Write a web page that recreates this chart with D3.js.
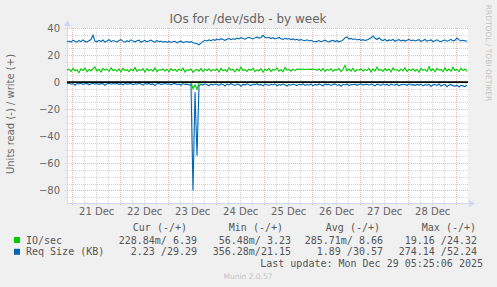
<!DOCTYPE html>
<html>
<head>
<meta charset="utf-8">
<script src="https://cdn.jsdelivr.net/npm/d3@7"></script>
<style>
  body { margin: 0; background: #F0F0F0; }
  text { font-family: "DejaVu Sans", sans-serif; fill: #666; }
  .mono { font-family: "DejaVu Sans Mono", monospace; font-size: 10px; white-space: pre; fill: #555; }
</style>
</head>
<body>
<div id="chart"></div>
<script>

// hourly samples starting Dec 20 21:25:06, last update Dec 29 05:25:06
var start = new Date(2025, 11, 20, 21, 25, 6),
    end = new Date(2025, 11, 29, 5, 25, 6);

// IO/sec write (+)
var ioWrite = [
  8.9,9.6,7.8,10.2,8.4,9.1,6.9,9.8,8.6,10.4,7.6,9.3,8.2,9.9,11.2,8.1,9.4,7.4,10.1,8.8,9.5,7.9,10.6,8.5,9.2,
  8.0,9.7,7.5,10.3,8.7,9.0,7.7,9.6,8.3,10.8,7.9,9.2,8.6,9.9,7.3,10.0,8.4,9.4,8.1,10.5,7.8,9.1,8.9,9.8,8.2,
  9.5,7.6,10.1,8.5,9.3,7.9,9.7,8.4,10.4,7.4,9.0,8.7,9.6,7.2,8.8,9.4,8.1,10.0,7.7,9.5,8.6,9.9,8.0,9.3,8.7,
  9.8,7.5,10.2,8.3,9.1,7.8,10.6,8.9,9.4,7.6,9.7,8.2,11.0,8.5,9.2,7.9,9.6,8.8,10.3,7.7,9.0,8.4,9.9,7.3,9.5,
  8.6,10.1,7.8,9.4,8.9,10.5,8.0,9.2,7.6,10.7,8.8,9.3,8.1,9.6,8.5,9.7,9.4,9.5,9.6,9.3,9.5,9.6,9.4,9.7,9.5,
  8.7,9.9,8.2,10.1,7.9,9.4,8.6,9.8,8.0,9.2,8.9,10.0,7.8,9.5,12.4,8.3,9.6,8.1,10.2,7.7,9.3,8.8,9.9,8.0,9.4,
  8.5,10.3,7.6,9.8,8.2,11.1,8.7,9.2,7.9,10.0,8.4,9.6,7.5,10.4,8.8,9.1,8.0,9.7,8.3,10.6,7.8,9.4,8.6,9.9,8.1,
  9.5,7.4,10.2,8.7,9.3,7.9,11.4,8.4,9.8,7.6,10.1,8.9,9.2,7.7,10.5,8.3,9.6,8.0,11.0,8.6,9.4,7.8,10.3,8.5,9.7,7.9
];

// IO/sec read (-)
var ioRead = [
  -0.3,-0.2,-0.4,-0.3,-0.2,-0.3,-0.5,-0.3,-0.2,-0.3,-0.4,-0.2,-0.3,-0.3,-0.2,-0.4,-0.3,-0.2,-0.3,-0.5,-0.3,-0.2,-0.3,-0.4,-0.3,
  -0.2,-0.3,-0.4,-0.3,-0.2,-0.5,-0.3,-0.2,-0.3,-0.4,-0.3,-0.2,-0.3,-0.3,-0.4,-0.2,-0.3,-0.5,-0.3,-0.2,-0.3,-0.4,-0.3,-0.2,-0.3,
  -0.4,-0.3,-0.2,-0.3,-0.5,-0.3,-0.2,-0.4,-0.3,-0.3,-0.2,-0.4,-0.3,-4.8,-2.1,-5.3,-0.6,-0.3,-0.4,-0.2,-0.3,-0.5,-0.3,-0.2,-0.3,
  -0.4,-0.3,-0.2,-0.3,-0.4,-0.3,-0.2,-0.5,-0.3,-0.3,-0.2,-0.4,-0.3,-0.2,-0.3,-0.4,-0.3,-0.2,-0.3,-0.5,-0.3,-0.2,-0.4,-0.3,-0.3,
  -0.2,-0.3,-0.4,-0.3,-0.2,-0.3,-0.5,-0.3,-0.2,-0.3,-0.4,-0.3,-0.2,-0.3,-0.3,-0.4,-0.2,-0.3,-0.5,-0.3,-0.2,-0.3,-0.4,-0.3,-0.2,
  -0.3,-0.4,-0.3,-0.2,-0.3,-0.5,-0.3,-0.2,-0.4,-0.3,-0.3,-0.2,-0.4,-0.3,-0.2,-0.3,-0.4,-0.3,-0.2,-0.3,-0.5,-0.3,-0.2,-0.3,-0.4,
  -0.3,-0.2,-0.3,-0.4,-0.3,-0.2,-0.5,-0.3,-0.3,-0.2,-0.4,-0.3,-0.2,-0.3,-0.4,-0.3,-0.2,-0.3,-0.5,-0.3,-0.2,-0.3,-0.4,-0.3,-0.2,
  -0.3,-0.4,-0.3,-0.2,-0.3,-0.5,-0.3,-0.2,-0.4,-0.3,-0.3,-0.2,-0.4,-0.3,-0.2,-0.3,-0.4,-0.3,-0.2,-0.3,-0.5,-0.3,-0.2,-0.3,-0.4,-0.2
];

// Req Size (KB) write (+)
var reqWrite = [
  29.8,30.4,29.6,31.0,30.2,29.5,30.8,29.9,31.2,30.1,29.7,30.6,31.5,34.6,30.3,29.8,30.9,30.0,31.1,29.6,30.4,31.3,29.9,30.7,30.2,
  29.7,30.8,31.4,30.1,29.5,30.6,29.9,31.2,30.3,29.8,30.5,31.0,29.4,30.2,30.9,29.7,30.4,31.1,30.0,29.6,30.8,29.9,30.3,29.5,30.1,
  29.5,30.1,29.3,29.9,30.2,29.0,29.8,30.3,29.2,29.6,30.0,29.4,29.9,29.1,28.7,28.3,27.6,28.8,30.1,30.9,30.4,31.2,30.6,31.5,30.9,
  31.8,31.2,32.1,31.5,30.9,31.7,32.3,31.4,32.0,31.6,32.5,31.9,32.8,32.2,31.7,32.6,33.1,32.4,31.9,32.7,33.4,32.5,33.0,34.6,33.2,
  32.6,33.1,32.2,32.8,31.9,32.5,33.0,32.1,31.6,32.4,31.8,32.2,31.4,31.9,31.2,31.7,30.9,31.5,31.0,30.6,31.3,30.4,30.9,30.2,29.8,
  30.1,30.7,29.9,30.4,31.0,30.2,29.7,30.5,30.9,30.0,30.6,29.8,30.3,31.1,32.9,33.4,31.8,32.3,31.5,32.0,31.2,31.7,30.9,31.4,30.8,
  31.2,31.9,32.6,34.1,32.4,31.5,32.8,31.3,30.7,31.6,30.4,31.2,30.8,31.5,30.2,30.9,31.4,30.5,31.0,30.3,30.9,31.6,30.6,31.1,30.4,
  30.9,31.4,30.2,30.8,31.5,30.3,30.7,31.2,30.0,30.6,31.3,30.4,29.9,30.8,31.1,30.2,30.7,31.6,30.5,31.0,32.6,31.2,30.4,30.9,30.5,30.3
];

// Req Size (KB) read (-)
var reqRead = [
  -1.2,-0.9,-1.6,-1.1,-2.3,-1.0,-1.4,-0.8,-1.7,-1.2,-1.0,-2.0,-1.3,-0.9,-1.5,-1.1,-1.8,-1.0,-1.3,-2.4,-1.2,-0.9,-1.6,-1.1,-1.4,
  -1.0,-1.7,-1.2,-2.1,-0.9,-1.5,-1.3,-1.0,-1.9,-1.2,-1.6,-0.8,-1.4,-2.2,-1.1,-1.5,-1.0,-1.8,-1.3,-2.6,-1.2,-1.0,-1.7,-1.4,-1.1,
  -1.6,-1.2,-2.0,-1.3,-1.0,-1.8,-1.4,-2.3,-1.1,-1.7,-1.5,-2.1,-1.9,-80.2,-7.5,-54.4,-2.8,-1.6,-2.2,-1.3,-1.9,-2.7,-1.5,-2.0,-1.4,
  -1.8,-2.4,-1.3,-1.7,-2.9,-1.5,-2.1,-1.2,-1.9,-2.5,-1.4,-1.8,-3.0,-1.6,-2.2,-1.3,-2.0,-2.6,-1.5,-1.9,-1.2,-2.3,-1.7,-2.8,-1.4,
  -1.9,-2.5,-1.6,-2.1,-1.3,-2.7,-1.8,-2.2,-1.5,-2.0,-2.9,-1.7,-2.3,-1.4,-1.9,-2.6,-1.6,-2.0,-1.3,-2.4,-1.8,-2.1,-1.5,-2.8,-1.7,
  -2.2,-1.5,-1.9,-2.7,-1.4,-2.0,-1.6,-2.5,-1.8,-1.3,-2.3,-1.9,-3.1,-1.6,-2.1,-1.4,-2.6,-1.8,-2.0,-1.5,-2.4,-1.7,-1.3,-2.2,-1.8,
  -1.6,-2.3,-1.4,-2.0,-2.8,-1.5,-1.9,-2.4,-1.3,-2.1,-1.7,-2.6,-1.5,-1.9,-2.2,-1.4,-2.7,-1.8,-2.0,-1.6,-2.5,-1.3,-2.1,-1.9,-2.4,
  -1.7,-2.2,-1.5,-2.8,-1.9,-2.3,-1.6,-3.2,-2.0,-1.8,-2.5,-1.4,-2.9,-2.1,-1.7,-3.4,-2.2,-1.9,-2.6,-3.0,-2.3,-3.6,-2.4,-2.8,-3.3,-2.2
];

var yTicks = [-80, -60, -40, -20, 0, 20, 40];

var legendHead = ["Cur (-/+)", "Min (-/+)", "Avg (-/+)", "Max (-/+)"];
var legendRows = [
  {name: "IO/sec", color: "#00CC00", vals: ["228.84m/ 6.39", "56.48m/ 3.23", "285.71m/ 8.66", "19.16 /24.32"]},
  {name: "Req Size (KB)", color: "#0066B3", vals: ["2.23 /29.29", "356.28m/21.15", "1.89 /30.57", "274.14 /52.24"]}
];

var W = 497, H = 287;
var pl = 67, pr = 467, pt = 28, pb = 203;

var svg = d3.select("#chart").append("svg")
    .attr("width", W)
    .attr("height", H)
    .style("display", "block");

svg.append("rect").attr("width", W).attr("height", H).attr("fill", "#F0F0F0");
svg.append("rect")
    .attr("x", pl).attr("y", pt)
    .attr("width", pr - pl + 1).attr("height", pb - pt)
    .attr("fill", "#fff");

var x = d3.scaleTime().domain([start, end]).range([pl, pr]);
var y = d3.scaleLinear().domain([-89.4, 40]).range([pb, pt]);

// grid
var grid = svg.append("g").attr("shape-rendering", "crispEdges");
grid.selectAll(".hmin")
  .data(d3.range(-85, 41, 5).filter(function(v) { return v % 20 != 0; }))
  .enter().append("line")
    .attr("x1", pl - 2).attr("x2", pr + 1)
    .attr("y1", function(d) { return Math.round(y(d)) + 0.5; })
    .attr("y2", function(d) { return Math.round(y(d)) + 0.5; })
    .attr("stroke", "#d4d4d4").attr("stroke-dasharray", "1,1");
grid.selectAll(".vmin")
  .data(d3.timeHour.every(6).range(start, end).filter(function(d) { return d.getHours() != 0; }))
  .enter().append("line")
    .attr("x1", function(d) { return Math.round(x(d)) + 0.5; })
    .attr("x2", function(d) { return Math.round(x(d)) + 0.5; })
    .attr("y1", pt).attr("y2", pb + 2)
    .attr("stroke", "#d4d4d4").attr("stroke-dasharray", "1,1");
grid.selectAll(".hmaj")
  .data(yTicks)
  .enter().append("line")
    .attr("x1", pl - 2).attr("x2", pr + 1)
    .attr("y1", function(d) { return Math.round(y(d)) + 0.5; })
    .attr("y2", function(d) { return Math.round(y(d)) + 0.5; })
    .attr("stroke", "#ecb4b4").attr("stroke-dasharray", "1,1");
grid.selectAll(".vmaj")
  .data(d3.timeDay.range(start, end))
  .enter().append("line")
    .attr("x1", function(d) { return Math.round(x(d)) + 0.5; })
    .attr("x2", function(d) { return Math.round(x(d)) + 0.5; })
    .attr("y1", pt).attr("y2", pb + 2)
    .attr("stroke", "#ecb4b4").attr("stroke-dasharray", "1,1");

// axes lines + arrows
svg.append("line").attr("x1", pl + 0.5).attr("x2", pl + 0.5).attr("y1", pb).attr("y2", pt - 4)
    .attr("stroke", "#CFD6F8");
svg.append("line").attr("x1", pl).attr("x2", pr + 4).attr("y1", pb + 0.5).attr("y2", pb + 0.5)
    .attr("stroke", "#CFD6F8");
svg.append("path").attr("d", "M" + (pl - 3) + "," + (pt - 2) + "L" + (pl + 0.5) + "," + (pt - 8) + "L" + (pl + 4) + "," + (pt - 2) + "Z")
    .attr("fill", "#CFD6F8");
svg.append("path").attr("d", "M" + (pr + 2) + "," + (pb - 3) + "L" + (pr + 8) + "," + (pb + 0.5) + "L" + (pr + 2) + "," + (pb + 4) + "Z")
    .attr("fill", "#CFD6F8");

// series
function t(i) { return new Date(start.getTime() + i * 3600000); }
var line = d3.line()
    .x(function(d, i) { return x(t(i)); })
    .y(function(d) { return y(d); });

[[ioRead, "#00CC00"], [ioWrite, "#00CC00"], [reqRead, "#0066B3"], [reqWrite, "#0066B3"]].forEach(function(s) {
  svg.append("path")
      .datum(s[0])
      .attr("d", line)
      .attr("fill", "none")
      .attr("stroke", s[1])
      .attr("stroke-width", 1.1);
});

// zero line
svg.append("line")
    .attr("x1", pl).attr("x2", pr + 1)
    .attr("y1", y(0)).attr("y2", y(0))
    .attr("stroke", "#000").attr("stroke-width", 1.6);

// y axis labels
var yAxis = svg.append("g")
    .attr("transform", "translate(" + pl + ",0)")
    .call(d3.axisLeft(y).tickValues(yTicks).tickSize(0).tickPadding(7));
yAxis.select(".domain").remove();
yAxis.selectAll("text").attr("font-size", 10).attr("font-family", "DejaVu Sans").attr("fill", "#666");

// x axis labels at noon
var noons = d3.timeDay.range(start, end).map(function(d) { return d3.timeHour.offset(d, 12); })
    .filter(function(d) { return d > start && d < end; });
var xAxis = svg.append("g")
    .attr("transform", "translate(0," + pb + ")")
    .call(d3.axisBottom(x).tickValues(noons).tickFormat(d3.timeFormat("%d %b")).tickSize(0).tickPadding(5));
xAxis.select(".domain").remove();
xAxis.selectAll("text").attr("font-size", 10).attr("font-family", "DejaVu Sans").attr("fill", "#666");

// title
svg.append("text")
    .attr("x", 248).attr("y", 23)
    .attr("text-anchor", "middle")
    .attr("font-size", 12)
    .text("IOs for /dev/sdb - by week");

svg.append("text")
    .attr("transform", "translate(14,114) rotate(-90)")
    .attr("text-anchor", "middle")
    .attr("font-size", 10)
    .text("Units read (-) / write (+)");

svg.append("text")
    .attr("transform", "translate(486,53) rotate(90)")
    .attr("text-anchor", "middle")
    .attr("font-size", 7.5)
    .style("fill", "#c4c4c4")
    .text("RRDTOOL / TOBI OETIKER");

// legend
var headEnd = [187, 283, 380, 476];
var valEnd = [197, 291, 383, 477];
svg.selectAll(".lh")
  .data(legendHead)
  .enter().append("text")
    .attr("class", "mono")
    .attr("x", function(d, i) { return headEnd[i]; })
    .attr("y", 231)
    .attr("text-anchor", "end")
    .text(function(d) { return d; });

legendRows.forEach(function(r, k) {
  var yy = 243.5 + k * 11.8;
  svg.append("rect")
      .attr("x", 14).attr("y", yy - 6.5)
      .attr("width", 6).attr("height", 6)
      .attr("fill", r.color);
  svg.append("text")
      .attr("class", "mono")
      .attr("x", 26).attr("y", yy)
      .text(r.name);
  r.vals.forEach(function(v, i) {
    svg.append("text")
        .attr("class", "mono")
        .attr("x", valEnd[i]).attr("y", yy)
        .attr("text-anchor", "end")
        .text(v);
  });
});

svg.append("text")
    .attr("class", "mono")
    .attr("x", 483).attr("y", 267)
    .attr("text-anchor", "end")
    .text("Last update: Mon Dec 29 05:25:06 2025");

svg.append("text")
    .attr("x", 248).attr("y", 279)
    .attr("text-anchor", "middle")
    .attr("font-size", 7.5)
    .style("fill", "#c4c4c4")
    .text("Munin 2.0.57");

</script>
</body>
</html>
